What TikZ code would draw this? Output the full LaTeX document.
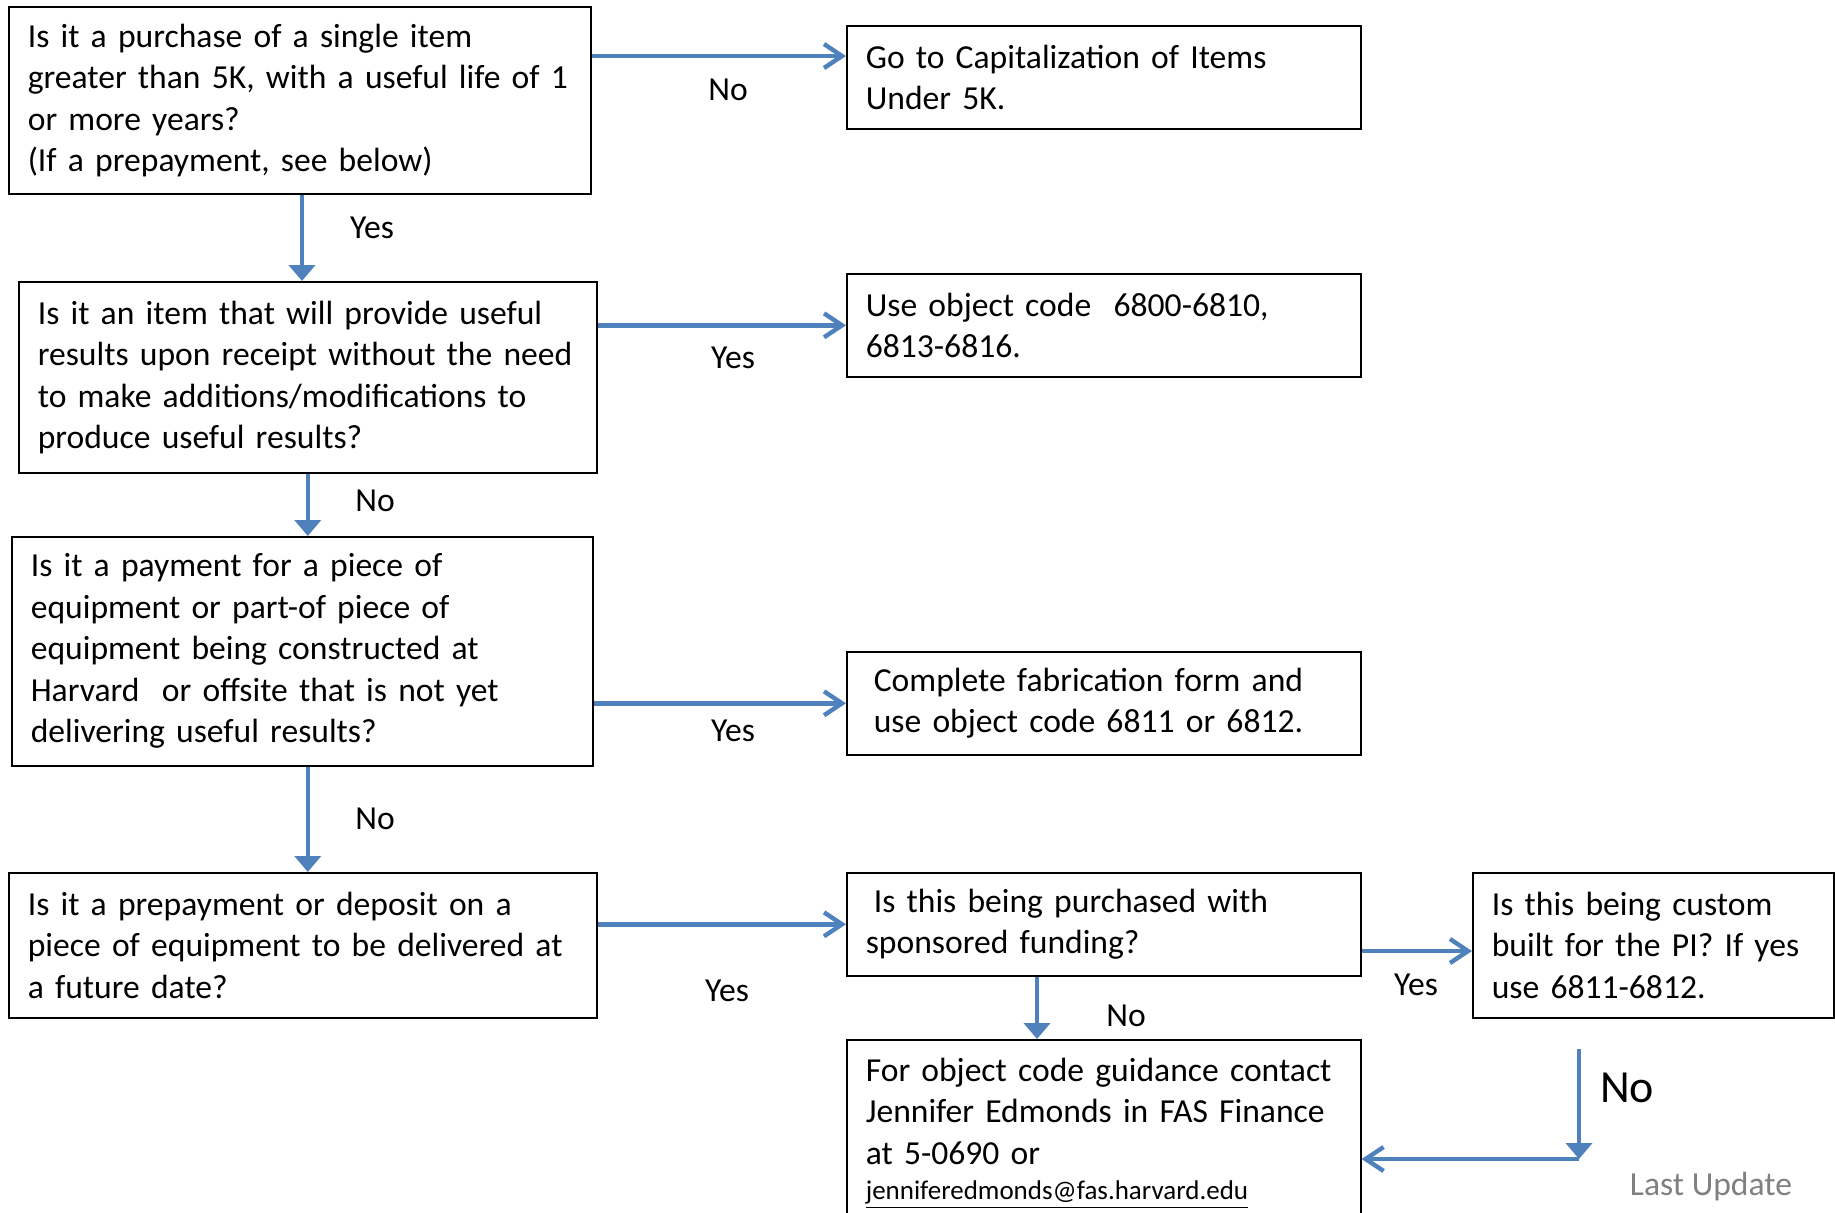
\documentclass[tikz,border=0pt]{standalone}
\usepackage{fontspec}
\setmainfont{Carlito}
\usetikzlibrary{arrows.meta,positioning}
\definecolor{arrowblue}{RGB}{79,129,189}
\definecolor{notegray}{RGB}{128,128,128}

\begin{document}
\begin{tikzpicture}[x=0.5pt, y=-0.5pt,
  box/.style = {draw, line width=0.8pt, anchor=north west, inner xsep=9.5pt, align=left, font=\fontsize{16.8}{20.75}\selectfont},
  harrow/.style = {draw=arrowblue, line width=2.2pt, -{Straight Barb[length=9pt,width=12pt]}},
  varrow/.style = {draw=arrowblue, line width=2.2pt, -{Triangle[length=8pt,width=13pt]}},
  lbl/.style = {font=\fontsize{16.8}{20}\selectfont}]
\useasboundingbox (0,0) rectangle (1835,1212);
\clip (0,0) rectangle (1835,1212);

% questions on the left
\node[box, text width=272pt, minimum height=93.5pt] (purchase) at (8,6)
  {Is it a purchase of a single item\\greater than 5K, with a useful life of 1\\or more years?\\(If a prepayment, see below)};
\node[box, text width=270pt, minimum height=95.5pt] (useful) at (18,281)
  {Is it an item that will provide useful\\results upon receipt without the need\\to make additions/modifications to\\produce useful results?};
\node[box, text width=271.5pt, minimum height=114.5pt] (payment) at (11,536)
  {Is it a payment for a piece of\\equipment or part-of piece of\\equipment being constructed at\\Harvard\ \ or offsite that is not yet\\delivering useful results?};
\node[box, text width=275pt, minimum height=72.5pt] (prepay) at (8,872)
  {Is it a prepayment or deposit on a\\piece of equipment to be delivered at\\a future date?};

% answers on the right
\node[box, text width=238pt, minimum height=51.5pt] (go) at (846,25)
  {Go to Capitalization of Items\\Under 5K.};
\node[box, text width=238pt, minimum height=51.5pt] (usecode) at (846,273)
  {Use object code\ \ 6800-6810,\\6813-6816.};
\node[box, text width=238pt, minimum height=51.5pt] (fabric) at (846,651)
  {\hspace*{4pt}Complete fabrication form and\\\hspace*{4pt}use object code 6811 or 6812.};
\node[box, text width=238pt, minimum height=51.5pt] (sponsored) at (846,872)
  {\hspace*{4pt}Is this being purchased with\\sponsored funding?};
\node[box, text width=161.5pt, minimum height=72.5pt] (custom) at (1472,872)
  {Is this being custom\\built for the PI? If yes\\use 6811-6812.};
\node[box, text width=238pt, inner ysep=9pt] (contact) at (846,1039)
  {For object code guidance contact\\Jennifer Edmonds in FAS Finance\\at 5-0690 or\\[-3pt]{\fontsize{13.5}{18}\selectfont\underline{jenniferedmonds@fas.harvard.edu}}\\[30pt]};

% labels
\node[lbl] (no1) at (728,90) {No};
\node[lbl] (yes1) at (372,228) {Yes};
\node[lbl] (yes2) at (733,358) {Yes};
\node[lbl] (no2) at (375,501) {No};
\node[lbl] (yes3) at (733,731) {Yes};
\node[lbl] (no3) at (375,819) {No};
\node[lbl] (yes4) at (727,991) {Yes};
\node[lbl] (no4) at (1126,1016) {No};
\node[lbl] (yes5) at (1416,985) {Yes};
\node[lbl, font=\fontsize{23}{26}\selectfont] (no5) at (1627,1088) {No};
\node[lbl, text=notegray] (update) at (1711,1187) {Last Update};

% connectors
\coordinate (nostart) at (1579,1049);
\coordinate (bend) at (1579,1159);
\draw[harrow] (purchase.east |- 0,56) -- (go.west |- 0,56);
\draw[varrow] (purchase.south -| 302,0) -- (useful.north -| 302,0);
\draw[harrow] (useful.east |- usecode.west) -- (usecode.west);
\draw[varrow] (useful.south) -- (useful.south |- payment.north);
\draw[harrow] (payment.east |- fabric.west) -- (fabric.west);
\draw[varrow] (payment.south -| useful.south) -- (prepay.north -| useful.south);
\draw[harrow] (prepay.east |- sponsored.west) -- (sponsored.west);
\draw[varrow] (sponsored.south -| 1037,0) -- (contact.north -| 1037,0);
\draw[harrow] (sponsored.east |- 0,951) -- (custom.west |- 0,951);
\draw[varrow] (nostart) -- (bend);
\draw[harrow] (bend) -- (contact.east |- bend);
\end{tikzpicture}
\end{document}
